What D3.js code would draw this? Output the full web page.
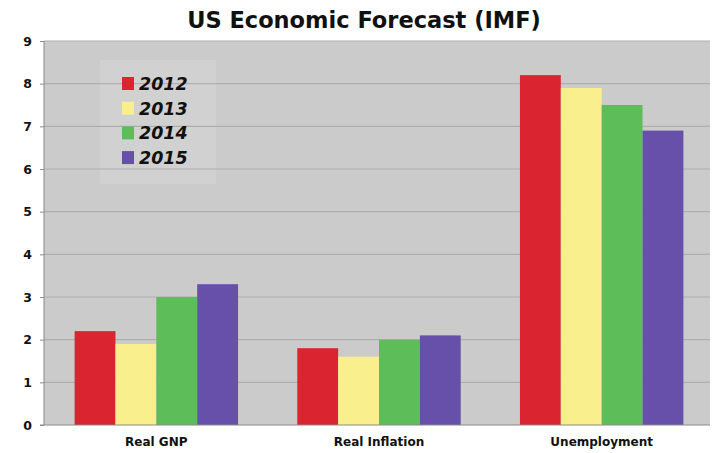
<!DOCTYPE html>
<html><head><meta charset="utf-8">
<script src="https://cdn.jsdelivr.net/npm/d3@7"></script>
<style>body{margin:0;background:#fff}svg{display:block}</style>
</head><body>
<script>
const categories = ["Real GNP", "Real Inflation", "Unemployment"];
const years = ["2012", "2013", "2014", "2015"];
const values2012 = [2.2, 1.8, 8.2];
const values2013 = [1.9, 1.6, 7.9];
const values2014 = [3.0, 2.0, 7.5];
const values2015 = [3.3, 2.1, 6.9];
const yTicks = [0,1,2,3,4,5,6,7,8,9];
const colors = ["#da2530", "#f9ef8c", "#5dbd58", "#6650aa"];

const series = [values2012, values2013, values2014, values2015];
const W = 712, H = 453;
const m = {l:44, r:2, t:41, b:28};
const svg = d3.select("body").append("svg").attr("width", W).attr("height", H);

const x0 = d3.scaleBand().domain(categories).range([m.l+1, W-m.r+3]).paddingInner(0.266).paddingOuter(0.133);
const x1 = d3.scaleBand().domain(years).range([0, x0.bandwidth()]);
const y = d3.scaleLinear().domain([0, 9]).range([H-m.b, m.t]);

// plot background
svg.append("rect").attr("x", m.l).attr("y", m.t).attr("width", W-m.r-m.l).attr("height", H-m.b-m.t).attr("fill", "#cbcbcb");
// legend highlight
svg.append("rect").attr("x", 100).attr("y", 60).attr("width", 116).attr("height", 124).attr("fill", "#d2d2d2").attr("opacity", 0.8);

// gridlines
svg.append("g").selectAll("line").data(yTicks.filter(d=>d>0)).join("line")
  .attr("x1", m.l).attr("x2", W-m.r).attr("y1", d=>y(d)).attr("y2", d=>y(d))
  .attr("stroke", "#afafaf").attr("stroke-width", 1.2);

// bars
const g = svg.append("g");
categories.forEach((c, ci) => {
  series.forEach((s, si) => {
    g.append("rect")
      .attr("x", x0(c) + x1(years[si]))
      .attr("y", y(s[ci]))
      .attr("width", x1.bandwidth())
      .attr("height", y(0) - y(s[ci]))
      .attr("fill", colors[si]);
  });
});

// axes lines
svg.append("line").attr("x1", m.l).attr("x2", m.l).attr("y1", m.t).attr("y2", y(0)).attr("stroke", "#8a8a8a");
svg.append("line").attr("x1", m.l-4).attr("x2", W-m.r).attr("y1", y(0)).attr("y2", y(0)).attr("stroke", "#8a8a8a");

// y axis
const yAxis = svg.append("g").attr("transform", `translate(${m.l},0)`)
  .call(d3.axisLeft(y).tickValues(yTicks).tickSize(4).tickPadding(8));
yAxis.select(".domain").remove();
yAxis.selectAll("line").attr("stroke", "#8a8a8a");
yAxis.selectAll("text").attr("font-family", "DejaVu Sans").attr("font-weight", "bold").attr("font-size", 12.5).attr("fill", "#111");

// x axis
const xAxis = svg.append("g").attr("transform", `translate(0,${y(0)})`)
  .call(d3.axisBottom(x0).tickSize(0).tickPadding(12));
xAxis.select(".domain").remove();
xAxis.selectAll("text").attr("font-family", "DejaVu Sans").attr("font-weight", "bold").attr("font-size", 12).attr("fill", "#111");

// title
svg.append("text").attr("x", 364).attr("y", 28).attr("text-anchor", "middle")
  .attr("font-family", "DejaVu Sans").attr("font-weight", "bold").attr("font-size", 22.5).attr("fill", "#111")
  .text("US Economic Forecast (IMF)");

// legend
const lg = svg.append("g");
years.forEach((yr, i) => {
  const yy = 84 + i*24.7;
  lg.append("rect").attr("x", 122).attr("y", yy-7).attr("width", 12).attr("height", 13).attr("fill", colors[i]);
  lg.append("text").attr("x", 139).attr("y", yy+6).attr("font-family", "DejaVu Sans").attr("font-weight", "bold")
    .attr("font-style", "italic").attr("font-size", 17.5).attr("fill", "#111").text(yr);
});
</script>
</body></html>
